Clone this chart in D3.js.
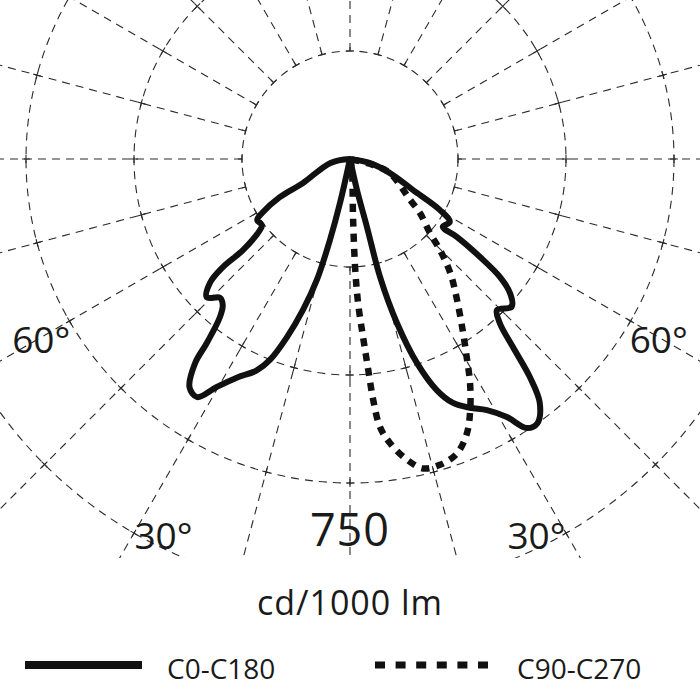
<!DOCTYPE html>
<html>
<head>
<meta charset="utf-8">
<script src="https://cdn.jsdelivr.net/npm/d3@7"></script>
<style>
  body { margin: 0; background: #fff; }
  text { font-family: "Open Sans", "Noto Sans", sans-serif; fill: #1a1a1a; }
</style>
</head>
<body>
<script>
// ring values (cd/1000 lm) and radial angles
var ringValues = [250, 500, 750, 1000];
var radialAngles = [0, 15, 30, 45, 60, 75, 90, 105, 120, 135, 150, 165, 180,
                    195, 210, 225, 240, 255, 270, 285, 300, 315, 330, 345];
var scaleLabel = "750";
var unitLabel = "cd/1000 lm";
var angleLabels = ["30°", "60°"];
var seriesNames = ["C0-C180", "C90-C270"];

// C180 half (left side), gamma in degrees from nadir
var gammaC180 = [90, 78.7, 62.9, 61.5, 58.5, 56.7, 53.1, 51.7, 49.6, 49.6, 48.5, 46, 43.1, 41, 39.4,
                 37.9, 37.2, 35.1, 32.7, 30.3, 27.3, 23.8, 21.7, 19.5, 17.3, 15.3, 13.9, 12.8, 12];
var intensityC180 = [0, 46, 123, 185, 238, 257, 255, 266, 324, 387, 433, 461, 440, 449, 475,
                     539, 593, 646, 655, 611, 569, 535, 500, 438, 366, 289, 192, 104, 0];

// C0 half (right side)
var gammaC0 = [90, 78.7, 70.7, 63.8, 60.5, 57.8, 53.8, 53.9, 53, 51.8, 50, 47.6, 44.2, 42.4, 40.9,
               39.5, 37.9, 35.3, 33.3, 31.3, 28.6, 25.7, 22.9, 20.6, 18.2, 16, 14.3, 14, 12.7, 12];
var intensityC0 = [0, 46, 97, 162, 238, 273, 266, 306, 377, 442, 484, 507, 488, 514, 576,
                   655, 715, 750, 745, 699, 662, 639, 613, 572, 498, 396, 282, 162, 74, 0];

// C90 half (right side, dotted); C270 is zero
var gammaC90 = [10, 10, 3, 2.7, 3.2, 4.2, 4.9, 5.5, 6.4, 8, 10.7, 13.3, 16.4, 20, 23.1, 25.6,
                28.2, 30.2, 33, 37.2, 41.3, 44.7, 47.2, 52.4, 55.7, 70.7, 75.4, 90];
var intensityC90 = [0, 25, 134, 250, 333, 414, 484, 560, 625, 664, 708, 736, 738, 725, 690, 644,
                    588, 539, 481, 410, 352, 296, 252, 204, 169, 97, 56, 0];

var svgWidth = 700;
var svgHeight = 700;
var cx = 350, cy = 159;
var clipBottom = 558;

var svg = d3.select("body")
  .append("svg")
  .attr("width", svgWidth)
  .attr("height", svgHeight);

var rScale = d3.scaleLinear()
  .domain([0, 1000])
  .range([0, 432]);

// polar -> screen, gamma measured from straight down, side = -1 left / +1 right
function toXY(gamma, value, side) {
  var a = gamma * Math.PI / 180;
  var r = rScale(value);
  return [cx + side * r * Math.sin(a), cy + r * Math.cos(a)];
}

svg.append("clipPath")
  .attr("id", "plotClip")
  .append("rect")
  .attr("x", 0).attr("y", 0)
  .attr("width", svgWidth).attr("height", clipBottom);

var grid = svg.append("g")
  .attr("clip-path", "url(#plotClip)")
  .attr("stroke", "#2a2a2a")
  .attr("stroke-width", 1.1)
  .attr("fill", "none");

// rings
grid.selectAll("circle.ring")
  .data(ringValues)
  .enter()
  .append("circle")
  .attr("class", "ring")
  .attr("cx", cx)
  .attr("cy", cy)
  .attr("r", d => rScale(d))
  .attr("stroke-dasharray", "8,6");

// radials start at the first ring
grid.selectAll("line.radial")
  .data(radialAngles)
  .enter()
  .append("line")
  .attr("class", "radial")
  .attr("x1", d => toXY(d, ringValues[0], 1)[0])
  .attr("y1", d => toXY(d, ringValues[0], 1)[1])
  .attr("x2", d => toXY(d, 2000, 1)[0])
  .attr("y2", d => toXY(d, 2000, 1)[1])
  .attr("stroke-dasharray", "8,6");

// small crosses where rings meet radials
var crossings = [];
ringValues.forEach(function(v) {
  radialAngles.forEach(function(a) { crossings.push({v: v, a: a}); });
});
var tick = 4;
grid.selectAll("path.cross")
  .data(crossings)
  .enter()
  .append("path")
  .attr("class", "cross")
  .attr("d", function(d) {
    var p = toXY(d.a, d.v, 1);
    var rad = d.a * Math.PI / 180;
    var ux = Math.sin(rad), uy = Math.cos(rad);
    var inner = d.v === ringValues[0] ? 0 : tick;
    return "M" + (p[0] - uy * tick) + "," + (p[1] + ux * tick) +
           "L" + (p[0] + uy * tick) + "," + (p[1] - ux * tick) +
           "M" + (p[0] - ux * inner) + "," + (p[1] - uy * inner) +
           "L" + (p[0] + ux * tick) + "," + (p[1] + uy * tick);
  });

// curves
var line = d3.line().curve(d3.curveCatmullRom.alpha(0.5));

function halfCurve(gammas, values, side) {
  return gammas.map(function(g, i) { return toXY(g, values[i], side); });
}

var c0c180 = halfCurve(gammaC180, intensityC180, -1)
  .concat(halfCurve(gammaC0, intensityC0, 1));

svg.append("path")
  .attr("d", line(c0c180))
  .attr("fill", "none")
  .attr("stroke", "#111")
  .attr("stroke-width", 6)
  .attr("stroke-linejoin", "round");

svg.append("path")
  .attr("d", line(halfCurve(gammaC90, intensityC90, 1)))
  .attr("fill", "none")
  .attr("stroke", "#111")
  .attr("stroke-width", 6.5)
  .attr("stroke-dasharray", "8,7");

// labels
svg.append("text")
  .attr("x", cx)
  .attr("y", cy + rScale(750) + 63)
  .attr("text-anchor", "middle")
  .attr("font-size", "45px")
  .attr("letter-spacing", "1")
  .text(scaleLabel);

var labelPos = [{t: angleLabels[0], g: 26.3, r: 421}, {t: angleLabels[1], g: 59.6, r: 358}];
labelPos.forEach(function(d) {
  [-1, 1].forEach(function(side) {
    var a = d.g * Math.PI / 180;
    svg.append("text")
      .attr("x", cx + side * d.r * Math.sin(a))
      .attr("y", cy + d.r * Math.cos(a) + 13)
      .attr("text-anchor", "middle")
      .attr("font-size", "37px")
      .text(d.t);
  });
});

svg.append("text")
  .attr("x", cx)
  .attr("y", 615)
  .attr("text-anchor", "middle")
  .attr("font-size", "34px")
  .attr("letter-spacing", "1")
  .text(unitLabel);

// legend
var legend = svg.append("g");
legend.append("line")
  .attr("x1", 25).attr("x2", 142)
  .attr("y1", 665).attr("y2", 665)
  .attr("stroke", "#111")
  .attr("stroke-width", 8);
legend.append("text")
  .attr("x", 167).attr("y", 679)
  .attr("font-size", "28px")
  .text(seriesNames[0]);
legend.append("line")
  .attr("x1", 375).attr("x2", 488)
  .attr("y1", 665).attr("y2", 665)
  .attr("stroke", "#111")
  .attr("stroke-width", 7)
  .attr("stroke-dasharray", "10,10.6");
legend.append("text")
  .attr("x", 517).attr("y", 679)
  .attr("font-size", "28px")
  .text(seriesNames[1]);
</script>
</body>
</html>
